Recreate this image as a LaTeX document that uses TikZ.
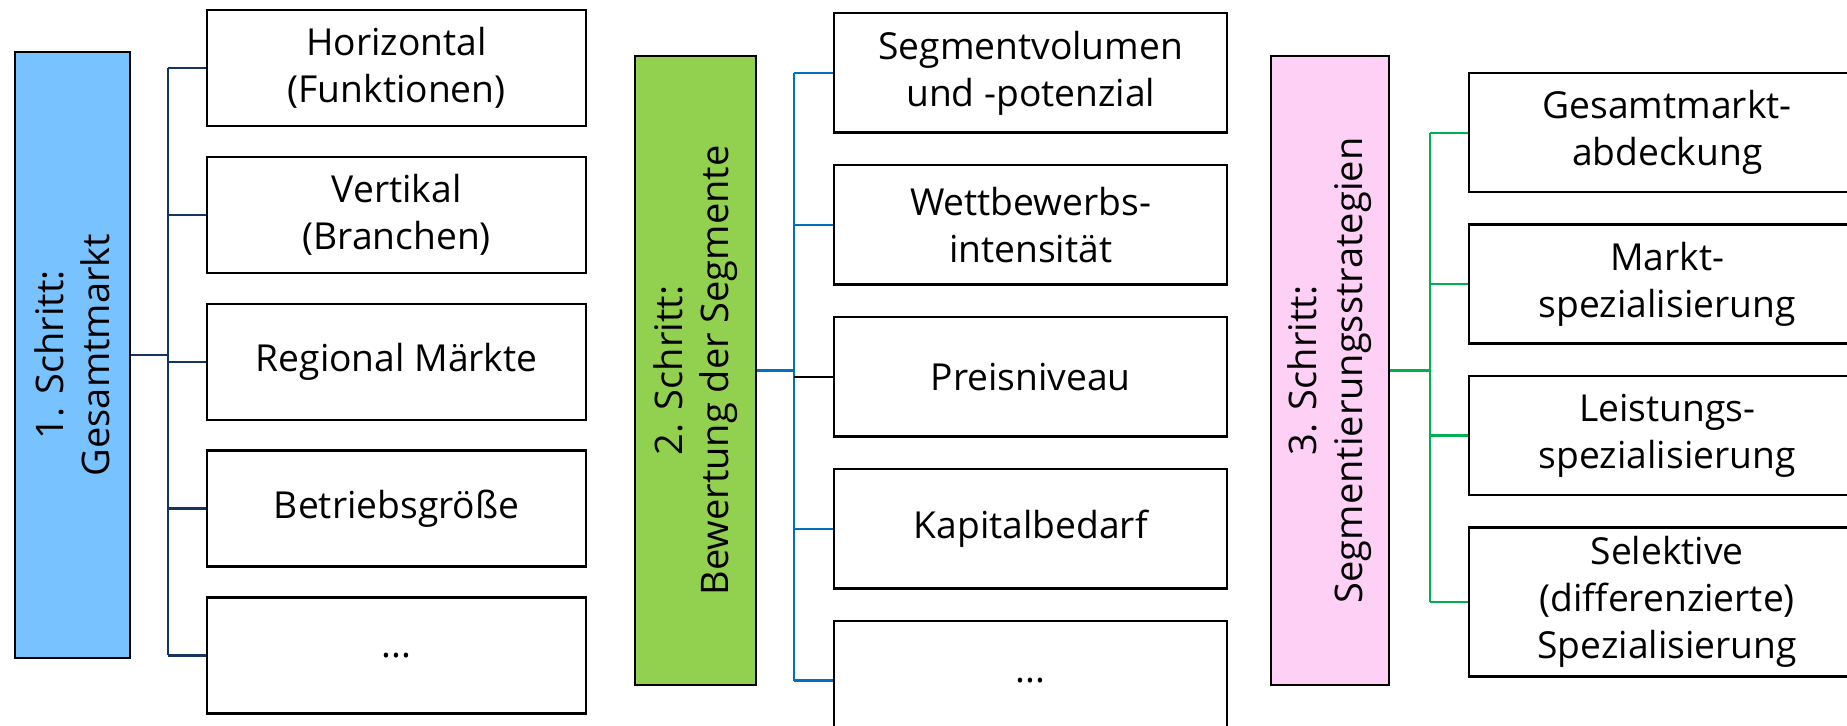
\documentclass[tikz,border=0pt]{standalone}
\usepackage{fontspec}
\setmainfont{Open Sans}
\usetikzlibrary{positioning}
\definecolor{stepblue}{HTML}{78C2FF}
\definecolor{stepgreen}{HTML}{92D050}
\definecolor{steppink}{HTML}{FFD0F6}
\definecolor{linenavy}{HTML}{12365F}
\definecolor{lineblue}{HTML}{0070C0}
\definecolor{linegreen}{HTML}{00B050}
\tikzset{
  % connector style
  conn/.style={
    line width = 1.1pt
  },
}
\tikzset{
  %step box style (rotated text)
  stepbox/.style={
    draw
    , line width=1.2pt
    , rotate=90
    , anchor=center
    , align=center
    , inner sep=0pt
    , font=\fontsize{19}{23}\selectfont
  },
  %item box style
  itembox/.style={
    draw
    , fill=white
    , line width=1.2pt
    , align=center
    , inner sep=0pt
    , font=\fontsize{18.6}{23.5}\selectfont
  },
}
\begin{document}
\begin{tikzpicture}[x=0.5pt,y=-0.5pt]
      \useasboundingbox (0,0) rectangle (1847,726);

      % 1. Schritt
      \node[stepbox, fill=stepblue, minimum width=303pt, minimum height=57.5pt] (s1) at (72.5,355) {1. Schritt:\\Gesamtmarkt};
      \begin{scope}[every node/.append style={itembox, minimum width=189.5pt, minimum height=58pt}, node distance=14.2pt]
      \node[anchor=north west] (a1) at (206,9) {Horizontal\\(Funktionen)};
      \node[below=of a1] (a2) {Vertikal\\(Branchen)};
      \node[below=of a2] (a3) {Regional Märkte};
      \node[below=of a3] (a4) {Betriebsgröße};
      \node[below=of a4] (a5) {...};
      \end{scope}
      \coordinate (t1) at (168,0);

      \draw[conn,linenavy,line width=1.4pt] (s1.south) -- (s1.south -| t1);
      \draw[conn,linenavy] (a1.west -| t1) -- (a5.west -| t1);
      \foreach \n in {a1,a2,a3,a4,a5}
        \draw[conn,linenavy] (\n.west -| t1) -- (\n.west);

      % 2. Schritt
      \node[stepbox, fill=stepgreen, minimum width=314.5pt, minimum height=60.5pt] (s2) at (695.5,370.5) {2. Schritt:\\Bewertung der Segmente};
      \begin{scope}[every node/.append style={itembox, minimum width=196.5pt, minimum height=59.75pt}, node distance=15pt]
      \node[anchor=north west] (b1) at (833,12) {Segmentvolumen\\und -potenzial};
      \node[below=of b1] (b2) {Wettbewerbs-\\intensität};
      \node[below=of b2] (b3) {Preisniveau};
      \node[below=of b3] (b4) {Kapitalbedarf};
      \node[below=of b4] (b5) {...};
      \end{scope}
      \coordinate (t2) at (794,0);

      \draw[conn,lineblue,line width=1.4pt] (s2.south) -- (s2.south -| t2);
      \draw[conn,lineblue] (b1.west -| t2) -- (b5.west -| t2);
      \foreach \n in {b1,b2,b4,b5}
        \draw[conn,lineblue] (\n.west -| t2) -- (\n.west);
      \draw[conn,black] (b3.west -| t2) -- (b3.west);

      % 3. Schritt
      \node[stepbox, fill=steppink, minimum width=314.5pt, minimum height=59pt] (s3) at (1330,370.5) {3. Schritt:\\Segmentierungsstrategien};
      \begin{scope}[every node/.append style={itembox, minimum width=198pt, minimum height=59.5pt}, node distance=15pt]
      \node[anchor=north west] (c1) at (1468,72) {Gesamtmarkt-\\abdeckung};
      \node[below=of c1] (c2) {Markt-\\spezialisierung};
      \node[below=of c2] (c3) {Leistungs-\\spezialisierung};
      \node[below=of c3, minimum height=74.5pt] (c4) {Selektive\\(differenzierte)\\Spezialisierung};
      \end{scope}
      \coordinate (t3) at (1430,0);

      \draw[conn,linegreen,line width=1.4pt] (s3.south) -- (s3.south -| t3);
      \draw[conn,linegreen] (c1.west -| t3) -- (c4.west -| t3);
      \foreach \n in {c1,c2,c3,c4}
        \draw[conn,linegreen] (\n.west -| t3) -- (\n.west);
    \end{tikzpicture}
\end{document}
